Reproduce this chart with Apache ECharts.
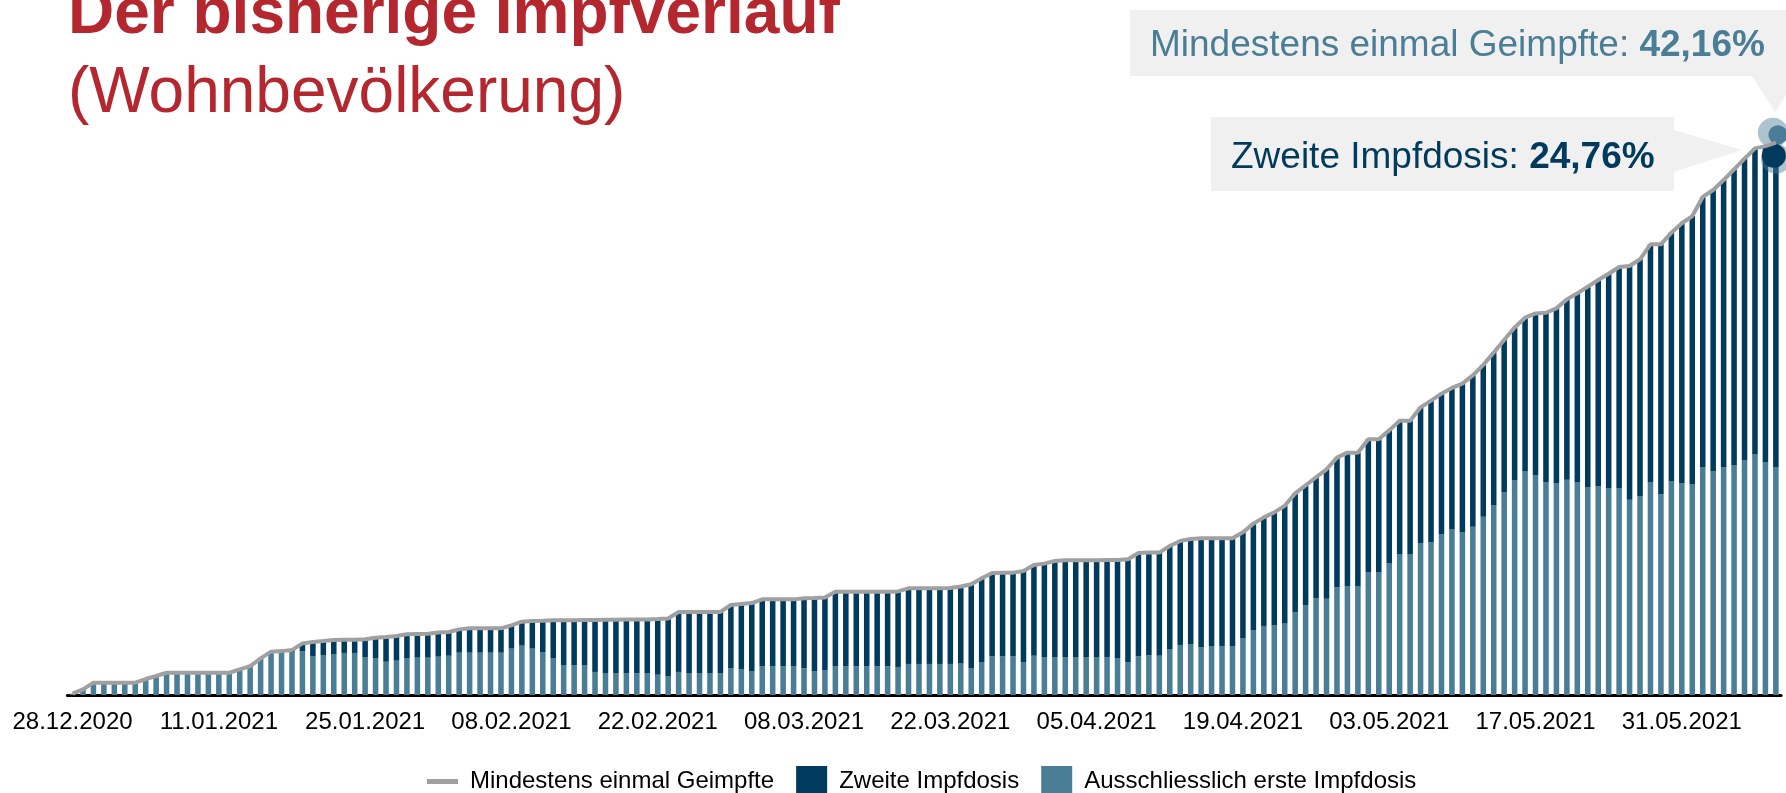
<!DOCTYPE html>
<html>
<head>
<meta charset="utf-8">
<script src="https://cdn.jsdelivr.net/npm/echarts@6/dist/echarts.min.js"></script>
<style>
html,body{margin:0;padding:0;background:#fff;}
#chart{width:1786px;height:793px;}
</style>
</head>
<body>
<div id="chart"></div>
<script>
const kategorien = [
"28.12.2020","29.12.2020","30.12.2020","31.12.2020",
"01.01.2021","02.01.2021","03.01.2021","04.01.2021","05.01.2021","06.01.2021","07.01.2021","08.01.2021","09.01.2021","10.01.2021",
"11.01.2021","12.01.2021","13.01.2021","14.01.2021","15.01.2021","16.01.2021","17.01.2021","18.01.2021","19.01.2021","20.01.2021",
"21.01.2021","22.01.2021","23.01.2021","24.01.2021","25.01.2021","26.01.2021","27.01.2021","28.01.2021","29.01.2021","30.01.2021","31.01.2021",
"01.02.2021","02.02.2021","03.02.2021","04.02.2021","05.02.2021","06.02.2021","07.02.2021","08.02.2021","09.02.2021","10.02.2021",
"11.02.2021","12.02.2021","13.02.2021","14.02.2021","15.02.2021","16.02.2021","17.02.2021","18.02.2021","19.02.2021","20.02.2021",
"21.02.2021","22.02.2021","23.02.2021","24.02.2021","25.02.2021","26.02.2021","27.02.2021","28.02.2021",
"01.03.2021","02.03.2021","03.03.2021","04.03.2021","05.03.2021","06.03.2021","07.03.2021","08.03.2021","09.03.2021","10.03.2021",
"11.03.2021","12.03.2021","13.03.2021","14.03.2021","15.03.2021","16.03.2021","17.03.2021","18.03.2021","19.03.2021","20.03.2021",
"21.03.2021","22.03.2021","23.03.2021","24.03.2021","25.03.2021","26.03.2021","27.03.2021","28.03.2021","29.03.2021","30.03.2021","31.03.2021",
"01.04.2021","02.04.2021","03.04.2021","04.04.2021","05.04.2021","06.04.2021","07.04.2021","08.04.2021","09.04.2021","10.04.2021",
"11.04.2021","12.04.2021","13.04.2021","14.04.2021","15.04.2021","16.04.2021","17.04.2021","18.04.2021","19.04.2021","20.04.2021",
"21.04.2021","22.04.2021","23.04.2021","24.04.2021","25.04.2021","26.04.2021","27.04.2021","28.04.2021","29.04.2021","30.04.2021",
"01.05.2021","02.05.2021","03.05.2021","04.05.2021","05.05.2021","06.05.2021","07.05.2021","08.05.2021","09.05.2021","10.05.2021",
"11.05.2021","12.05.2021","13.05.2021","14.05.2021","15.05.2021","16.05.2021","17.05.2021","18.05.2021","19.05.2021","20.05.2021",
"21.05.2021","22.05.2021","23.05.2021","24.05.2021","25.05.2021","26.05.2021","27.05.2021","28.05.2021","29.05.2021","30.05.2021","31.05.2021",
"01.06.2021","02.06.2021","03.06.2021","04.06.2021","05.06.2021","06.06.2021","07.06.2021","08.06.2021","09.06.2021"
];

const mindestensEinmalGeimpfte = [
0.10,0.43,0.94,0.94,0.94,0.94,0.94,1.22,1.45,1.70,
1.70,1.70,1.70,1.70,1.70,1.70,1.96,2.21,2.80,3.31,
3.35,3.43,3.94,4.05,4.12,4.20,4.22,4.22,4.25,4.37,
4.43,4.50,4.63,4.66,4.68,4.77,4.81,5.01,5.09,5.09,
5.09,5.09,5.32,5.60,5.65,5.67,5.70,5.70,5.70,5.72,
5.72,5.75,5.75,5.77,5.77,5.77,5.80,5.84,6.34,6.34,
6.34,6.34,6.34,6.87,6.95,7.02,7.30,7.30,7.30,7.30,
7.38,7.40,7.45,7.89,7.89,7.89,7.89,7.89,7.89,7.91,
8.14,8.14,8.14,8.14,8.17,8.28,8.45,8.91,9.31,9.34,
9.34,9.47,9.92,10.03,10.23,10.28,10.28,10.28,10.28,10.31,
10.31,10.36,10.84,10.87,10.87,11.37,11.76,11.91,11.96,11.96,
11.96,11.96,12.42,13.08,13.56,13.94,14.45,15.39,16.00,16.62,
17.23,18.12,18.50,18.50,19.52,19.52,20.20,20.94,20.94,21.96,
22.47,23.00,23.44,23.77,24.40,25.20,26.15,27.10,28.05,28.80,
29.13,29.18,29.52,30.20,30.66,31.17,31.68,32.16,32.67,32.75,
33.26,34.40,34.40,35.29,36.01,36.56,38.02,38.55,39.31,40.13,
40.94,41.73,41.90,42.16
];

const zweiteImpfdosis = [
0,0,0,0,0,0,0,0,0,0,
0,0,0,0,0,0,0,0,0,0,
0,0.15,0.58,1.07,1.07,1.07,1.01,1.01,1.35,1.55,
1.89,1.88,1.81,1.81,1.83,1.84,1.81,1.78,1.86,1.86,
1.86,1.86,1.78,1.83,2.11,2.39,2.88,3.41,3.41,3.46,
3.96,4.07,4.10,4.12,4.12,4.12,4.25,4.39,4.58,4.66,
4.66,4.66,4.66,4.83,4.97,5.19,5.11,5.11,5.11,5.11,
5.34,5.57,5.54,5.70,5.70,5.70,5.70,5.70,5.70,5.77,
5.77,5.77,5.77,5.77,5.80,5.88,6.39,6.39,6.36,6.39,
6.39,6.95,6.92,7.13,7.33,7.38,7.38,7.38,7.38,7.41,
7.49,7.84,7.89,7.84,7.87,7.86,7.94,8.02,8.30,8.22,
8.22,8.22,8.07,8.12,8.29,8.60,9.00,9.05,9.13,9.22,
9.88,9.88,10.18,10.18,10.13,10.13,10.12,10.18,10.18,10.36,
10.79,10.71,10.77,11.33,11.55,11.60,11.65,11.60,11.63,11.70,
12.34,12.92,13.34,13.76,14.40,15.29,15.75,16.36,16.87,17.84,
18.07,18.14,19.08,18.95,19.83,20.50,20.62,21.45,21.91,22.57,
23.00,23.38,24.16,24.76
];

const ausschliesslichErsteImpfdosis = [
0.10,0.43,0.94,0.94,0.94,0.94,0.94,1.22,1.45,1.70,
1.70,1.70,1.70,1.70,1.70,1.70,1.96,2.21,2.80,3.31,
3.35,3.28,3.36,2.98,3.05,3.13,3.21,3.21,2.90,2.82,
2.54,2.62,2.82,2.85,2.85,2.93,3.00,3.23,3.23,3.23,
3.23,3.23,3.54,3.77,3.54,3.28,2.82,2.29,2.29,2.26,
1.76,1.68,1.65,1.65,1.65,1.65,1.55,1.45,1.76,1.68,
1.68,1.68,1.68,2.04,1.98,1.83,2.19,2.19,2.19,2.19,
2.04,1.83,1.91,2.19,2.19,2.19,2.19,2.19,2.19,2.14,
2.37,2.37,2.37,2.37,2.37,2.40,2.06,2.52,2.95,2.95,
2.95,2.52,3.00,2.90,2.90,2.90,2.90,2.90,2.90,2.90,
2.82,2.52,2.95,3.03,3.00,3.51,3.82,3.89,3.66,3.74,
3.74,3.74,4.35,4.96,5.27,5.34,5.45,6.34,6.87,7.40,
7.35,8.24,8.32,8.32,9.39,9.39,10.08,10.76,10.76,11.60,
11.68,12.29,12.67,12.44,12.85,13.60,14.50,15.50,16.42,17.10,
16.79,16.26,16.18,16.44,16.26,15.88,15.93,15.80,15.80,14.91,
15.19,16.26,15.32,16.34,16.18,16.06,17.40,17.10,17.40,17.56,
17.94,18.35,17.74,17.40
];

const titel = "Der bisherige Impfverlauf";
const untertitel = "(Wohnbevölkerung)";
const serienNamen = ["Mindestens einmal Geimpfte", "Zweite Impfdosis", "Ausschliesslich erste Impfdosis"];
const letzterErste = "42,16%";
const letzterZweite = "24,76%";

const FONT = "'Liberation Sans', Arial, Helvetica, sans-serif";
const ROT = "#b5272f";
const DUNKEL = "#003a5c";
const HELL = "#4a7d96";
const GRAU = "#a0a0a0";
const BOX = "#f0f0f0";

const chart = echarts.init(document.getElementById('chart'), null, {renderer: 'canvas'});
const lastIdx = kategorien.length - 1;
const lastVal = mindestensEinmalGeimpfte[lastIdx];

const option = {
  animation: false,
  backgroundColor: '#ffffff',
  grid: {left: 67.3, right: 4.9, top: 105.5, bottom: 98},
  xAxis: {
    type: 'category',
    data: kategorien,
    axisLine: {lineStyle: {color: '#000', width: 3}},
    axisTick: {show: false},
    axisLabel: {interval: 13, fontSize: 24, color: '#000', margin: 15, fontFamily: FONT}
  },
  yAxis: {type: 'value', min: 0, max: 45, show: false},
  legend: {
    left: 422, top: 761,
    itemWidth: 31, itemHeight: 31, itemGap: 22,
    textStyle: {fontSize: 24, color: '#000', fontFamily: FONT, padding: [0, 0, 0, 7]},
    data: [
      {name: serienNamen[0], icon: 'path://M0,0H31V5H0Z', itemStyle: {color: GRAU}},
      {name: serienNamen[1], icon: 'rect'},
      {name: serienNamen[2], icon: 'rect'}
    ]
  },
  series: [
    {
      name: serienNamen[2], type: 'bar', stack: 'impf', barWidth: '53%',
      itemStyle: {color: HELL}, data: ausschliesslichErsteImpfdosis
    },
    {
      name: serienNamen[1], type: 'bar', stack: 'impf', barWidth: '53%',
      itemStyle: {color: DUNKEL}, data: zweiteImpfdosis
    },
    {
      name: serienNamen[0], type: 'line', symbol: 'none', z: 5,
      itemStyle: {color: GRAU}, lineStyle: {color: GRAU, width: 4},
      data: mindestensEinmalGeimpfte,
      markPoint: {
        silent: true,
        label: {show: false},
        data: [
          {coord: [lastIdx, lastVal], symbol: 'circle', symbolSize: 30, symbolOffset: [-3, -10], itemStyle: {color: 'rgba(74,125,150,0.45)'}},
          {coord: [lastIdx, lastVal], symbol: 'circle', symbolSize: 19, symbolOffset: [2, -8], itemStyle: {color: HELL}},
          {coord: [lastIdx, lastVal], symbol: 'circle', symbolSize: 30, symbolOffset: [0, 16], itemStyle: {color: 'rgba(74,125,150,0.45)'}},
          {coord: [lastIdx, lastVal], symbol: 'circle', symbolSize: 24, symbolOffset: [-2, 13], itemStyle: {color: DUNKEL}}
        ]
      }
    }
  ],
  graphic: [
    {type: 'text', x: 68, y: 15, z: 10,
     style: {text: titel, fill: ROT, fontSize: 64, fontWeight: 'bold', fontFamily: FONT, verticalAlign: 'middle', textAlign: 'left'}},
    {type: 'text', x: 68, y: 94, z: 10,
     style: {text: untertitel, fill: ROT, fontSize: 64, fontFamily: FONT, verticalAlign: 'middle', textAlign: 'left'}},
    {type: 'rect', z: 10, shape: {x: 1130, y: 10, width: 656, height: 66}, style: {fill: BOX}},
    {type: 'polygon', z: 10, shape: {points: [[1752, 76], [1786, 76], [1786, 95], [1775, 112]]}, style: {fill: BOX}},
    {type: 'text', x: 1150, y: 46, z: 11,
     style: {text: '{n|' + serienNamen[0] + ': }{b|' + letzterErste + '}', verticalAlign: 'middle', textAlign: 'left',
       rich: {n: {fontSize: 37, fontFamily: FONT, fill: HELL, color: HELL}, b: {fontSize: 37, fontFamily: FONT, fontWeight: 'bold', fill: HELL, color: HELL}}}},
    {type: 'rect', z: 10, shape: {x: 1211, y: 117, width: 463, height: 74}, style: {fill: BOX}},
    {type: 'polygon', z: 10, shape: {points: [[1674, 130], [1742, 150], [1674, 172]]}, style: {fill: BOX}},
    {type: 'text', x: 1231, y: 158, z: 11,
     style: {text: '{n|' + serienNamen[1] + ': }{b|' + letzterZweite + '}', verticalAlign: 'middle', textAlign: 'left',
       rich: {n: {fontSize: 37, fontFamily: FONT, fill: DUNKEL, color: DUNKEL}, b: {fontSize: 37, fontFamily: FONT, fontWeight: 'bold', fill: DUNKEL, color: DUNKEL}}}}
  ]
};
chart.setOption(option);
</script>
</body>
</html>
